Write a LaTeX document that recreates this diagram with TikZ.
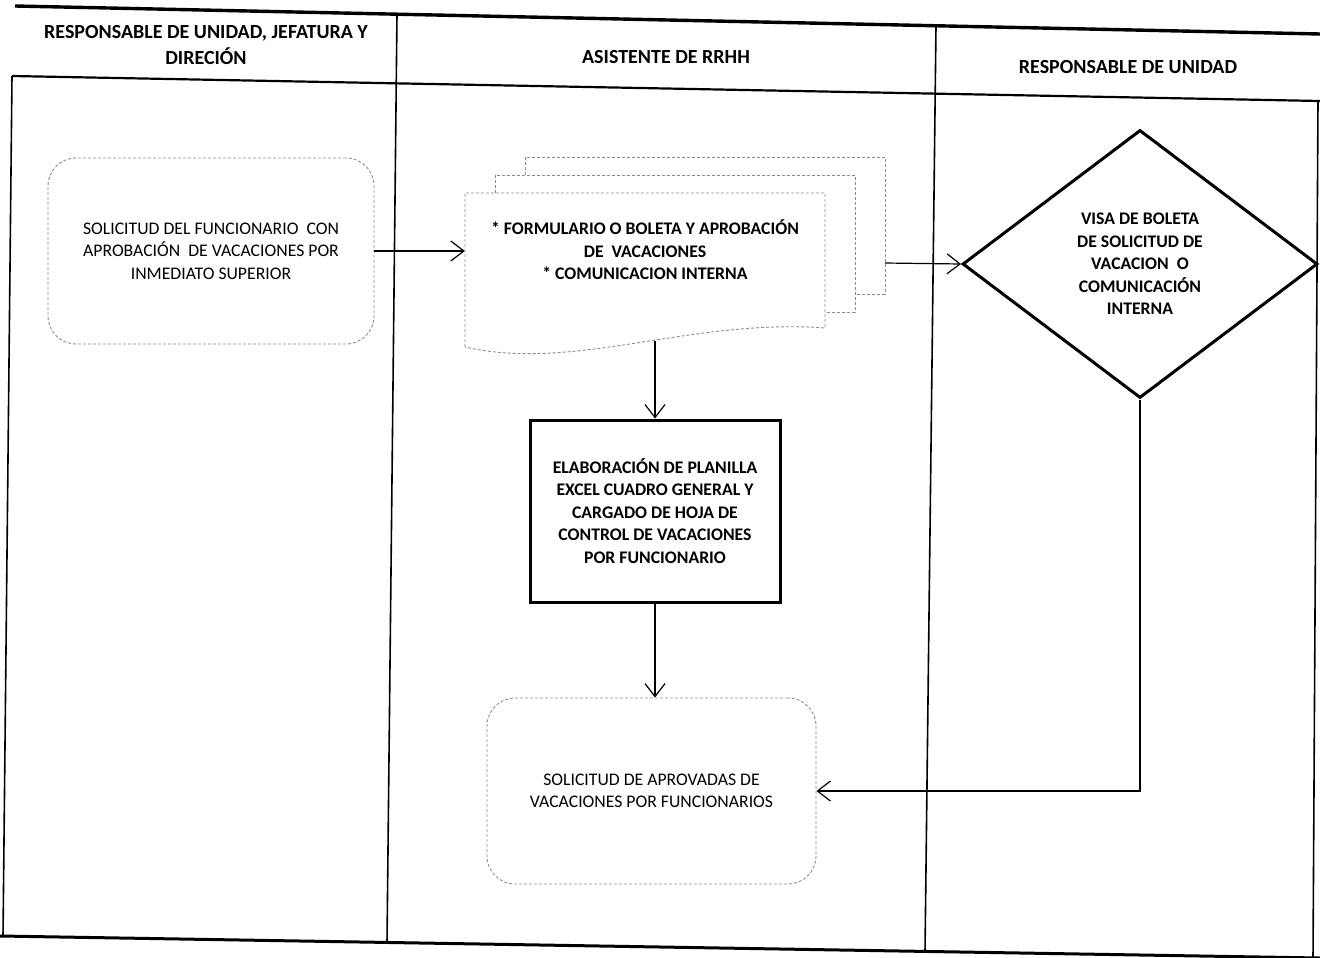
\documentclass[tikz,border=0pt]{standalone}
\usepackage{fontspec}
\setmainfont{Carlito}
\usetikzlibrary{arrows.meta,shapes.geometric}
\begin{document}
\begin{tikzpicture}[x=1pt,y=-1pt,
  txt/.style={font=\fontsize{17.7}{22.5}\selectfont, align=center, inner sep=0pt},
  btxt/.style={txt, font=\fontsize{17.7}{22.5}\selectfont\bfseries},
  headtxt/.style={txt, font=\fontsize{20}{26}\selectfont\bfseries},
  faint/.style={draw=black!45, line width=0.9pt, dash pattern=on 3pt off 2pt},
  roundbox/.style={txt, faint, rounded corners=28pt},
  procbox/.style={btxt, draw, line width=3pt, minimum width=250pt, minimum height=182pt},
  decision/.style={btxt, draw, line width=3pt, diamond, minimum width=355pt, minimum height=268pt, inner sep=0pt},
  arr/.style={line width=1.2pt, -{Straight Barb[length=13pt,width=20pt,line width=1.2pt]}},
  tableline/.style={line width=1.6pt},
  tablethick/.style={line width=3.4pt},
]
\useasboundingbox (0,0) rectangle (1320,958);

% swimlane table
\draw[tablethick] (15,6) -- (1320,34);
\draw[tableline, line width=2.2pt] (12,76) -- (1320,101);
\draw[tablethick, line width=3pt] (0,936) -- (1320,958);
\draw[tableline] (12,76) -- (3,937);
\draw[tableline] (397,14) -- (387,943);
\draw[tableline] (936,26) -- (925,952);
\draw[tableline] (1318,100) -- (1313,958);

% lane headers
\node[headtxt] (h1) at (206,45) {RESPONSABLE DE UNIDAD, JEFATURA Y\\DIRECIÓN};
\node[headtxt] (h2) at (666,57) {ASISTENTE DE RRHH};
\node[headtxt] (h3) at (1128,67) {RESPONSABLE DE UNIDAD};

% request box
\node[roundbox, minimum width=326pt, minimum height=186pt] (req) at (211,251)
  {SOLICITUD DEL FUNCIONARIO~ CON\\APROBACIÓN~ DE VACACIONES POR\\INMEDIATO SUPERIOR};

% stacked documents
\draw[faint] (525,175) -- (525,157) -- (885,157) -- (885,294) -- (855,294);
\draw[faint] (495,193) -- (495,175) -- (855,175) -- (855,312) -- (825,312);
\draw[faint] (465,347) -- (465,193) -- (825,193) -- (825,328)
  .. controls (690,318) and (575,372) .. (465,347);
\node[btxt, minimum width=360pt, minimum height=150pt] (doc) at (645,250)
  {* FORMULARIO O BOLETA Y APROBACIÓN\\DE~ VACACIONES\\* COMUNICACION INTERNA};
\coordinate (docS) at (655,341);
\coordinate (stackE) at (885,263);

% process box
\node[procbox] (proc) at (655,511)
  {ELABORACIÓN DE PLANILLA\\EXCEL CUADRO GENERAL Y\\CARGADO DE HOJA DE\\CONTROL DE VACACIONES\\POR FUNCIONARIO};

% decision
\node[decision] (dia) at (1140,264)
  {VISA DE BOLETA\\DE SOLICITUD DE\\VACACION~ O\\COMUNICACIÓN\\INTERNA};

% result box
\node[roundbox, minimum width=329pt, minimum height=186pt] (bot) at (651.5,791)
  {SOLICITUD DE APROVADAS DE\\VACACIONES POR FUNCIONARIOS};

% connectors
\draw[arr] (req.east) -- (req.east -| doc.west);
\draw[arr] (stackE) -- (dia.west);
\draw[arr] (docS) -- (proc.north);
\draw[arr] (proc.south) -- (proc.south |- bot.north);
\draw[arr] (dia.south) |- (bot.east);
\end{tikzpicture}
\end{document}
